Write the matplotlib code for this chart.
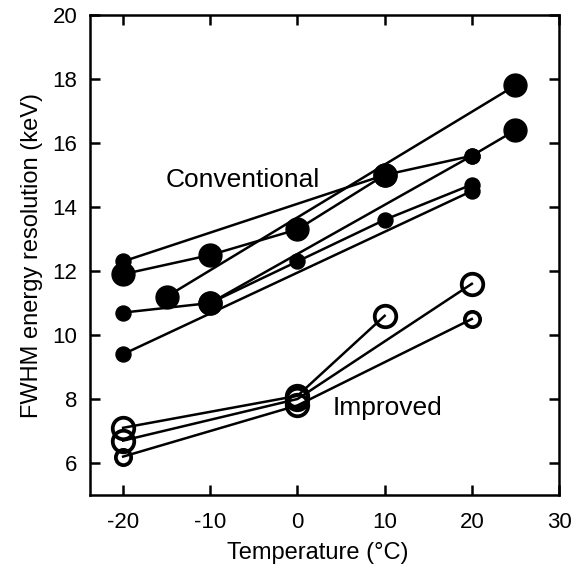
import matplotlib
matplotlib.use("Agg")
import matplotlib.pyplot as plt

plt.rcParams['font.family'] = ['Liberation Sans', 'DejaVu Sans']
plt.rcParams['axes.unicode_minus'] = False

# Conventional detectors (filled markers), one list per connected line
conv_x = [
    [-20, 10],
    [-20, -10, 0, 10, 20, 25],
    [-15, 25],
    [-20, -10, 20],
    [-10, 0, 10, 20],
    [-20, 20],
]
conv_y = [
    [12.3, 15.0],
    [11.9, 12.5, 13.3, 15.0, 15.6, 16.4],
    [11.2, 17.8],
    [10.7, 11.0, 15.6],
    [11.0, 12.3, 13.6, 14.7],
    [9.4, 14.5],
]
# marker size class for each point: 1 = large, 0 = small
conv_big = [
    [0, 1],
    [1, 1, 1, 1, 0, 1],
    [1, 1],
    [0, 1, 0],
    [1, 0, 0, 0],
    [0, 0],
]

# Improved detectors (open markers)
impr_x = [
    [-20, 0, 10],
    [-20, 0, 20],
    [-20, 0, 20],
]
impr_y = [
    [7.1, 8.1, 10.6],
    [6.7, 8.0, 11.6],
    [6.2, 7.8, 10.5],
]
impr_big = [
    [1, 1, 1],
    [1, 1, 1],
    [0, 1, 0],
]

fig = plt.figure(figsize=(5.84, 5.74), dpi=100)
ax = fig.add_axes([90/584, 1-495/574, 469/584, 480/574])

lw = 1.8
for xs, ys, big in zip(conv_x, conv_y, conv_big):
    ax.plot(xs, ys, color='black', lw=lw, zorder=2)
    for x, y, b in zip(xs, ys, big):
        ax.plot(x, y, 'o', color='black', ms=16.5 if b else 10.8, zorder=3)

for xs, ys, big in zip(impr_x, impr_y, impr_big):
    ax.plot(xs, ys, color='black', lw=lw, zorder=2)
    for x, y, b in zip(xs, ys, big):
        ax.plot(x, y, 'o', mfc='none', mec='black', mew=2.7,
                ms=15.5 if b else 11, zorder=3)

ax.text(-15.1, 14.85, 'Conventional', fontsize=19, va='center', ha='left')
ax.text(4.0, 7.72, 'Improved', fontsize=19, va='center', ha='left')

ax.set_xlim(-23.8, 30)
ax.set_ylim(5, 20)
ax.set_xticks([-20, -10, 0, 10, 20, 30])
ax.set_yticks([6, 8, 10, 12, 14, 16, 18, 20])
ax.tick_params(direction='in', length=7, width=1.8, labelsize=16,
               top=True, right=True)
ax.tick_params(axis='x', pad=12)
ax.tick_params(axis='y', pad=9)
for s in ax.spines.values():
    s.set_linewidth(1.8)

ax.set_xlabel('Temperature (°C)', fontsize=17)
ax.set_ylabel('FWHM energy resolution (keV)', fontsize=17)
ax.xaxis.set_label_coords(0.485, -0.098)
ax.yaxis.set_label_coords(-0.10, 0.5)

fig.savefig('out.png', dpi=100)
